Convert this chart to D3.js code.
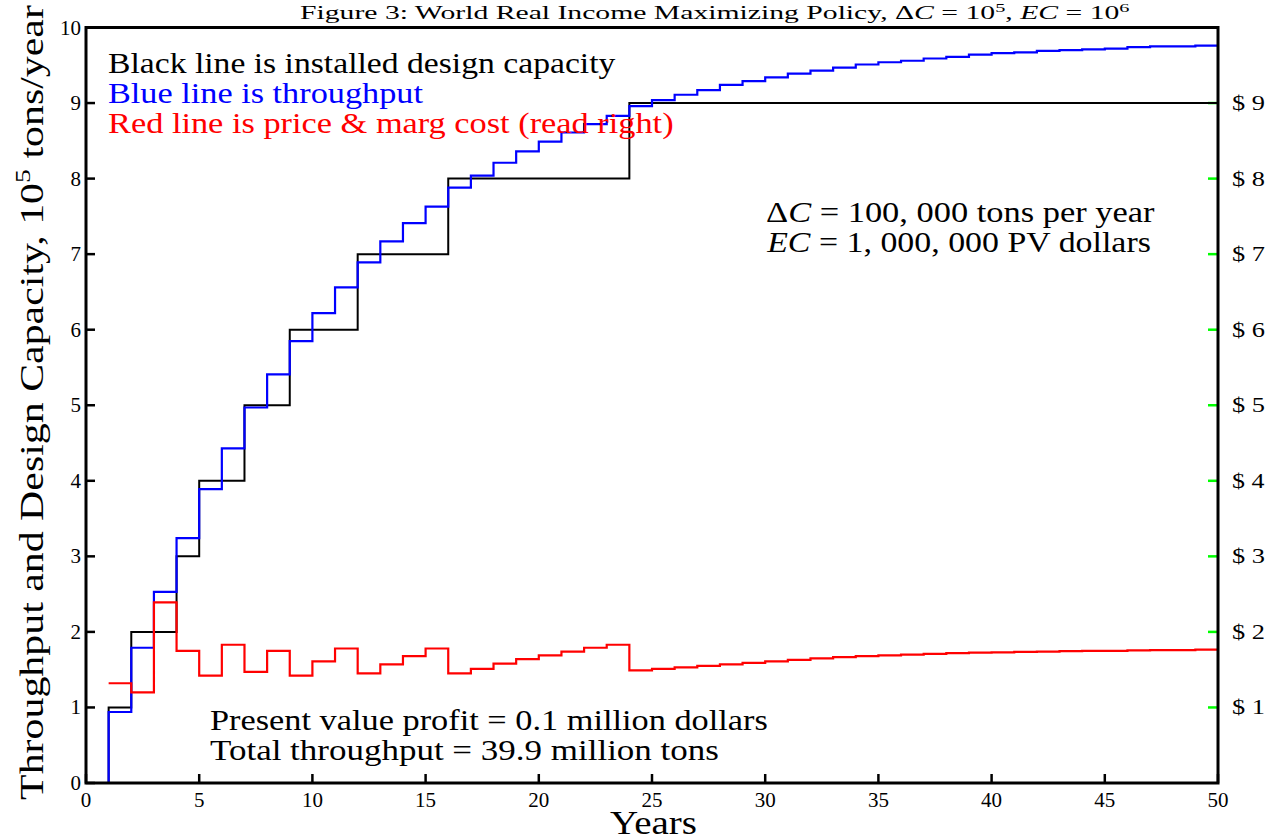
<!DOCTYPE html>
<html><head><meta charset="utf-8">
<script src="https://cdn.jsdelivr.net/npm/d3@7"></script>
<style>
body{margin:0;background:#fff;}
svg{display:block;font-family:"Liberation Serif","Times New Roman",serif;}
</style></head><body>
<svg id="chart" width="1274" height="837"></svg>
<script>
// ---- data ----
const years = d3.range(1, 50); // step start years 1..49
const capacity = [1,2,2,3,4,4,5,5,6,6,6,7,7,7,7,8,8,8,8,8,8,8,8,9,9,9,9,9,9,9,9,9,9,9,9,9,9,9,9,9,9,9,9,9,9,9,9,9,9];
const throughput = [0.94,1.79,2.53,3.24,3.89,4.43,4.97,5.41,5.85,6.22,6.56,6.89,7.17,7.41,7.63,7.88,8.04,8.21,8.36,8.49,8.61,8.72,8.83,8.96,9.04,9.11,9.17,9.24,9.29,9.34,9.39,9.43,9.47,9.51,9.54,9.56,9.59,9.61,9.64,9.66,9.67,9.69,9.70,9.71,9.72,9.74,9.75,9.75,9.76];
const price = [1.32,1.20,2.39,1.75,1.42,1.83,1.47,1.75,1.42,1.61,1.78,1.45,1.57,1.68,1.78,1.45,1.51,1.58,1.64,1.69,1.74,1.79,1.83,1.49,1.51,1.53,1.55,1.57,1.59,1.61,1.63,1.65,1.665,1.68,1.69,1.70,1.71,1.72,1.725,1.73,1.735,1.74,1.745,1.75,1.75,1.755,1.76,1.76,1.765];
const xTicks = [0,5,10,15,20,25,30,35,40,45,50];
const yTicks = [0,1,2,3,4,5,6,7,8,9,10];
const rightTicks = [1,2,3,4,5,6,7,8,9];
const legendLines = [
  {text:"Black line is installed design capacity", color:"#000", w:508},
  {text:"Blue line is throughput", color:"#0000ff", w:315},
  {text:"Red line is price & marg cost (read right)", color:"#ff0000", w:566}
];
const summaryLines = [
  {text:"Present value profit = 0.1 million dollars", w:558},
  {text:"Total throughput = 39.9 million tons", w:509}
];

// ---- layout ----
const svg = d3.select("#chart");
const L = 86, R = 1218, T = 27.5, B = 783;
const x = d3.scaleLinear().domain([0,50]).range([L,R]);
const y = d3.scaleLinear().domain([0,10]).range([B,T]);

// horizontally stretch a text node so it spans [left, left+width]
function fitX(node, left, width){
  const bb = node.getBBox();
  const s = width / bb.width;
  node.setAttribute("transform", `translate(${left},0) scale(${s},1) translate(${-bb.x},0)`);
}

const series = (vals, startZero) => {
  const pts = years.map((yr,i)=>[yr, vals[i]]);
  pts.push([50, vals[vals.length-1]]);
  if (startZero) pts.unshift([1,0]);
  return pts;
};
const line = d3.line().x(d=>x(d[0])).y(d=>y(d[1])).curve(d3.curveStepAfter);

// ticks
svg.append("g").selectAll("line").data(yTicks).join("line")
  .attr("x1",L).attr("x2",L+9).attr("y1",d=>y(d)).attr("y2",d=>y(d))
  .attr("stroke","#000").attr("stroke-width",2.5);
svg.append("g").selectAll("line").data(xTicks).join("line")
  .attr("x1",d=>x(d)).attr("x2",d=>x(d)).attr("y1",B).attr("y2",B-9)
  .attr("stroke","#000").attr("stroke-width",2.5);
svg.append("g").selectAll("line").data(rightTicks).join("line")
  .attr("x1",R).attr("x2",R-10).attr("y1",d=>y(d)).attr("y2",d=>y(d))
  .attr("stroke","#00ff00").attr("stroke-width",2.5);

// data lines
svg.append("path").attr("d",line(series(capacity,true))).attr("fill","none").attr("stroke","#000").attr("stroke-width",2);
svg.append("path").attr("d",line(series(throughput,true))).attr("fill","none").attr("stroke","#0000ff").attr("stroke-width",2.2);
svg.append("path").attr("d",line(series(price,false))).attr("fill","none").attr("stroke","#ff0000").attr("stroke-width",2.2);

// frame
svg.append("rect").attr("x",L).attr("y",T).attr("width",R-L).attr("height",B-T)
  .attr("fill","none").attr("stroke","#000").attr("stroke-width",3);

// tick labels
svg.append("g").selectAll("text").data(yTicks).join("text")
  .attr("x",L-5).attr("y",d=>y(d)+7).attr("text-anchor","end").attr("font-size",21).text(d=>d);
svg.append("g").selectAll("text").data(xTicks).join("text")
  .attr("x",d=>x(d)).attr("y",B+24).attr("text-anchor","middle").attr("font-size",21).text(d=>d);
svg.append("g").selectAll("text").data(rightTicks).join("text")
  .attr("x",R+14).attr("y",d=>y(d)+7).attr("font-size",21).text(d=>"$ "+d)
  .each(function(){ fitX(this, R+14, 33); });

// axis titles
const xt = svg.append("text").attr("x",0).attr("y",834).attr("font-size",33).text("Years");
fitX(xt.node(), 610, 87);

const yg = svg.append("g").attr("transform","translate(43,402.5) rotate(-90)");
const yl = yg.append("text").attr("x",0).attr("y",0).attr("text-anchor","middle").attr("font-size",33);
yl.append("tspan").text("Throughput and Design Capacity, 10");
yl.append("tspan").attr("font-size",22).attr("dy",-13).text("5");
yl.append("tspan").attr("dy",13).text(" tons/year");
fitX(yl.node(), -397.5, 795);

// title
const tt = svg.append("text").attr("x",0).attr("y",19).attr("font-size",19);
tt.append("tspan").text("Figure 3: World Real Income Maximizing Policy, Δ");
tt.append("tspan").attr("font-style","italic").text("C");
tt.append("tspan").text(" = 10");
tt.append("tspan").attr("font-size",13).attr("dy",-7).text("5");
tt.append("tspan").attr("dy",7).text(", ");
tt.append("tspan").attr("font-style","italic").text("EC");
tt.append("tspan").text(" = 10");
tt.append("tspan").attr("font-size",13).attr("dy",-7).text("6");
fitX(tt.node(), 300, 831);

// legend
svg.append("g").selectAll("text").data(legendLines).join("text")
  .attr("x",0).attr("y",(d,i)=>73+i*30).attr("font-size",29).attr("fill",d=>d.color).text(d=>d.text)
  .each(function(d){ fitX(this, 108, d.w); });

// annotation right
const a1 = svg.append("text").attr("x",0).attr("y",222).attr("font-size",29);
a1.append("tspan").text("Δ");
a1.append("tspan").attr("font-style","italic").text("C");
a1.append("tspan").text(" = 100, 000 tons per year");
fitX(a1.node(), 766, 389);
const a2 = svg.append("text").attr("x",0).attr("y",252).attr("font-size",29);
a2.append("tspan").attr("font-style","italic").text("EC");
a2.append("tspan").text(" = 1, 000, 000 PV dollars");
fitX(a2.node(), 766, 385);

svg.append("g").selectAll("text").data(summaryLines).join("text")
  .attr("x",0).attr("y",(d,i)=>730+i*30).attr("font-size",29).text(d=>d.text)
  .each(function(d){ fitX(this, 210, d.w); });
</script>
</body></html>
